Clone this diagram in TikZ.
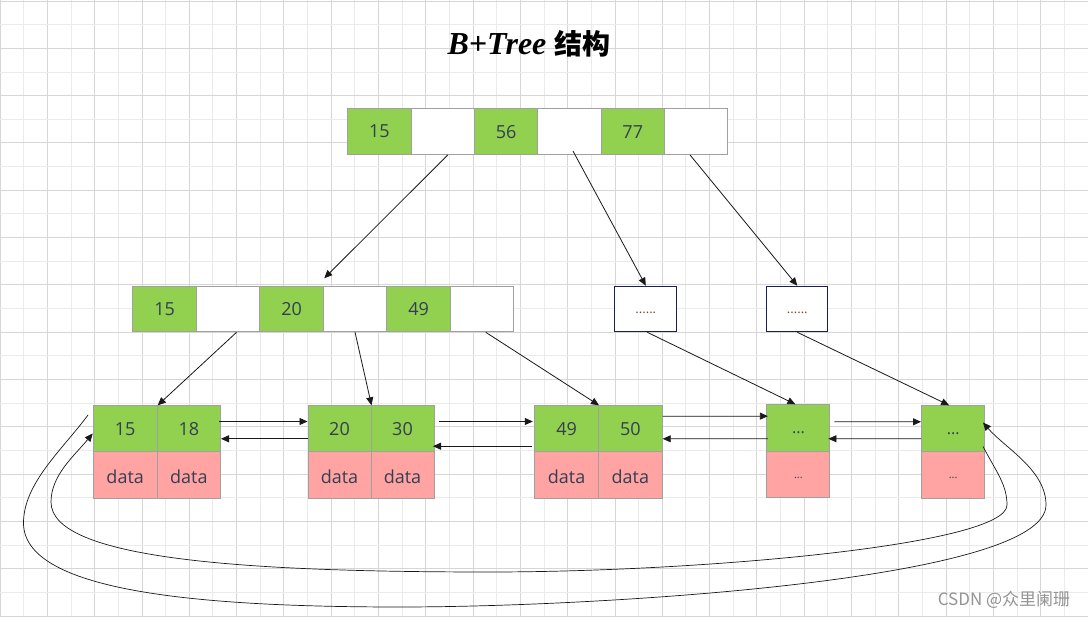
\documentclass[tikz,border=0pt]{standalone}
\usepackage{fontspec}
\setmainfont{Open Sans}
\newfontfamily\cjk{Noto Sans CJK SC}
\newfontfamily\titlelat{Liberation Serif}
\usetikzlibrary{arrows.meta,calc}
\definecolor{gminor}{HTML}{EBEBEB}
\definecolor{gmajor}{HTML}{D6D6D6}
\definecolor{keyg}{HTML}{92D050}
\definecolor{datap}{HTML}{FFA3A3}
\definecolor{cellb}{HTML}{A0A0A0}
\definecolor{txt}{HTML}{333F50}
\definecolor{navy}{HTML}{1A1F4F}
\definecolor{dotc}{HTML}{7A4528}
\tikzset{
  cell/.style={draw=cellb, line width=1pt, anchor=north west, inner sep=0pt,
    minimum height=45.7pt, text=txt, font=\fontsize{18}{20}\selectfont},
  rootcell/.style={cell, minimum width=63.33pt},
  midcell/.style={cell, minimum width=63.5pt, minimum height=45.6pt},
  keycell/.style={fill=keyg},
  emptycell/.style={fill=white},
  datacell/.style={fill=datap},
  datatext/.style={text height=16.7pt, text depth=0pt},
  smallbox/.style={draw=navy, line width=1pt, fill=white, anchor=north west,
    inner sep=0pt, minimum height=45.6pt, text=dotc, font=\fontsize{13}{14}\selectfont},
  link/.style={line width=0.8pt, draw=black!90, -{Triangle[length=8pt,width=7pt]}},
  loopline/.style={line width=0.7pt, draw=black!90, -{Triangle[length=8pt,width=7pt]}},
}
\begin{document}
\begin{tikzpicture}[x=1pt,y=-1pt]
\fill[white] (0,0) rectangle (1088,617);
\useasboundingbox (0,0) rectangle (1088,617);
% grid
\foreach \i in {0,...,23} {
  \draw[gminor, line width=0.8pt] ({\i*47.3+23.65},0) -- ({\i*47.3+23.65},617);
  \draw[gmajor, line width=0.8pt] ({\i*47.3},0) -- ({\i*47.3},617);
}
\foreach \j in {0,...,13} {
  \draw[gminor, line width=0.8pt] (0,{\j*47.3+24.65}) -- (1088,{\j*47.3+24.65});
  \draw[gmajor, line width=0.8pt] (0,{\j*47.3+1}) -- (1088,{\j*47.3+1});
}
% title
\node (title) at (529,44) {\fontsize{32}{34}\selectfont\titlelat\bfseries\itshape B+Tree\ {\cjk\fontsize{28}{30}\selectfont\bfseries 结构}};
% root
\node[rootcell,keycell] (r1) at (347.3,108.3) {15};
\node[rootcell,emptycell] (r2) at (410.6,108.3) {};
\node[rootcell,keycell] (r3) at (473.9,108.3) {56};
\node[rootcell,emptycell] (r4) at (537.3,108.3) {};
\node[rootcell,keycell] (r5) at (600.6,108.3) {77};
\node[rootcell,emptycell] (r6) at (663.9,108.3) {};
% middle
\node[midcell,keycell] (m1) at (132.3,285.7) {15};
\node[midcell,emptycell] (m2) at (195.8,285.7) {};
\node[midcell,keycell] (m3) at (259.3,285.7) {20};
\node[midcell,emptycell] (m4) at (322.8,285.7) {};
\node[midcell,keycell] (m5) at (386.3,285.7) {49};
\node[midcell,emptycell] (m6) at (449.8,285.7) {};
\node[smallbox, minimum width=62pt] (s1) at (614.3,285.7) {\strut\raisebox{-2pt}{......}};
\node[smallbox, minimum width=61pt] (s2) at (766.3,285.7) {\strut\raisebox{-2pt}{......}};
% leaves
\node[cell,keycell,minimum width=64pt,minimum height=46pt] (l1a) at (92.7,405.3) {15};
\node[cell,keycell,minimum width=63.3pt,minimum height=46pt] (l1b) at (156.7,405.3) {18};
\node[cell,datacell,datatext,minimum width=64pt,minimum height=46.7pt] (l1c) at (92.7,451.3) {data};
\node[cell,datacell,datatext,minimum width=63.3pt,minimum height=46.7pt] (l1d) at (156.7,451.3) {data};
\node[cell,keycell,minimum width=63pt,minimum height=46pt] (l2a) at (307.5,405.3) {20};
\node[cell,keycell,minimum width=63pt,minimum height=46pt] (l2b) at (370.5,405.3) {30};
\node[cell,datacell,datatext,minimum width=63pt,minimum height=46.7pt] (l2c) at (307.5,451.3) {data};
\node[cell,datacell,datatext,minimum width=63pt,minimum height=46.7pt] (l2d) at (370.5,451.3) {data};
\node[cell,keycell,minimum width=63.7pt,minimum height=46pt] (l3a) at (534.3,405.3) {49};
\node[cell,keycell,minimum width=63.7pt,minimum height=46pt] (l3b) at (598,405.3) {50};
\node[cell,datacell,datatext,minimum width=63.7pt,minimum height=46.7pt] (l3c) at (534.3,451.3) {data};
\node[cell,datacell,datatext,minimum width=63.7pt,minimum height=46.7pt] (l3d) at (598,451.3) {data};
\node[cell,keycell,minimum width=63pt,minimum height=46.7pt,font=\fontsize{16}{18}\selectfont] (l4a) at (766.4,404.3) {\strut\raisebox{-2pt}{...}};
\node[cell,datacell,minimum width=63pt,minimum height=46.3pt,font=\fontsize{11}{13}\selectfont] (l4b) at (766.4,451) {\strut\raisebox{-1pt}{...}};
\node[cell,keycell,minimum width=63.3pt,minimum height=46pt,font=\fontsize{16}{18}\selectfont] (l5a) at (921,405.3) {\strut\raisebox{-2pt}{...}};
\node[cell,datacell,minimum width=63.3pt,minimum height=46.7pt,font=\fontsize{11}{13}\selectfont] (l5b) at (921,451.3) {\strut\raisebox{-1pt}{...}};
% root -> children
\draw[link] ([xshift=5pt]r2.south) -- ([xshift=1.5pt,yshift=7.5pt]m4.north west);
\draw[link] ([xshift=3.5pt,yshift=4pt]r4.south) -- (s1.north);
\draw[link] ([xshift=-6pt]r6.south) -- (s2.north);
% middle -> leaves
\draw[link] ([xshift=8.5pt]m2.south) -- (l1a.north east);
\draw[link] (m4.south) -- (l2a.north east);
\draw[link] ([xshift=3.7pt]m6.south) -- (l3a.north east);
\draw[link] ([xshift=1.5pt]s1.south) -- ([xshift=-3pt]l4a.north);
\draw[link] (s2.south) -- ([xshift=-4pt]l5a.north);
% leaf links
\draw[link] ([xshift=-2pt,yshift=7.3pt]l1b.east) -- ([yshift=7.3pt]l2a.west);
\draw[link] ([yshift=-10pt]l2a.west) -- ([yshift=-10pt]l1b.east);
\draw[link] ([xshift=4pt,yshift=7.3pt]l2b.east) -- ([xshift=-1.5pt,yshift=7.3pt]l3a.west);
\draw[link] ([xshift=-2pt,yshift=-17.4pt]l3a.west) -- ([xshift=-1.5pt,yshift=-17.4pt]l2b.east);
\draw[link] ([yshift=12.6pt]l3b.east) -- ([xshift=1.5pt,yshift=12pt]l4a.west);
\draw[link] ([xshift=1.5pt,yshift=-10.6pt]l4a.west) -- ([yshift=-10pt]l3b.east);
\draw[link] ([xshift=4pt,yshift=6.4pt]l4a.east) -- ([yshift=7pt]l5a.west);
\draw[link] ([yshift=-10pt]l5a.west) -- ([xshift=-2pt,yshift=-10.6pt]l4a.east);
% loop curves
\draw[loopline] ([xshift=-4.7pt,yshift=-9.7pt]l1a.north west)
  .. controls (63,449) and (23.5,483) .. (23.5,523)
  .. controls (23.5,590) and (190,607) .. (400,607)
  .. controls (600,607) and (1046,580) .. (1046,505)
  .. controls (1046,470) and (1005,448) .. ([xshift=-2.3pt,yshift=6.3pt]l5a.east);
\draw[loopline] ([xshift=-2.3pt,yshift=-17.7pt]l5a.east)
  .. controls (997,473) and (1007,485) .. (1007,505)
  .. controls (1007,545) and (700,572) .. (490,572)
  .. controls (250,572) and (51,560) .. (51,502)
  .. controls (51,475) and (75,455) .. ([yshift=-4.7pt]l1a.west);
% watermark
\node[text=black!42, font=\cjk\fontsize{17}{19}\selectfont] (wm) at (1004,600) {CSDN @众里阑珊};
\end{tikzpicture}
\end{document}
